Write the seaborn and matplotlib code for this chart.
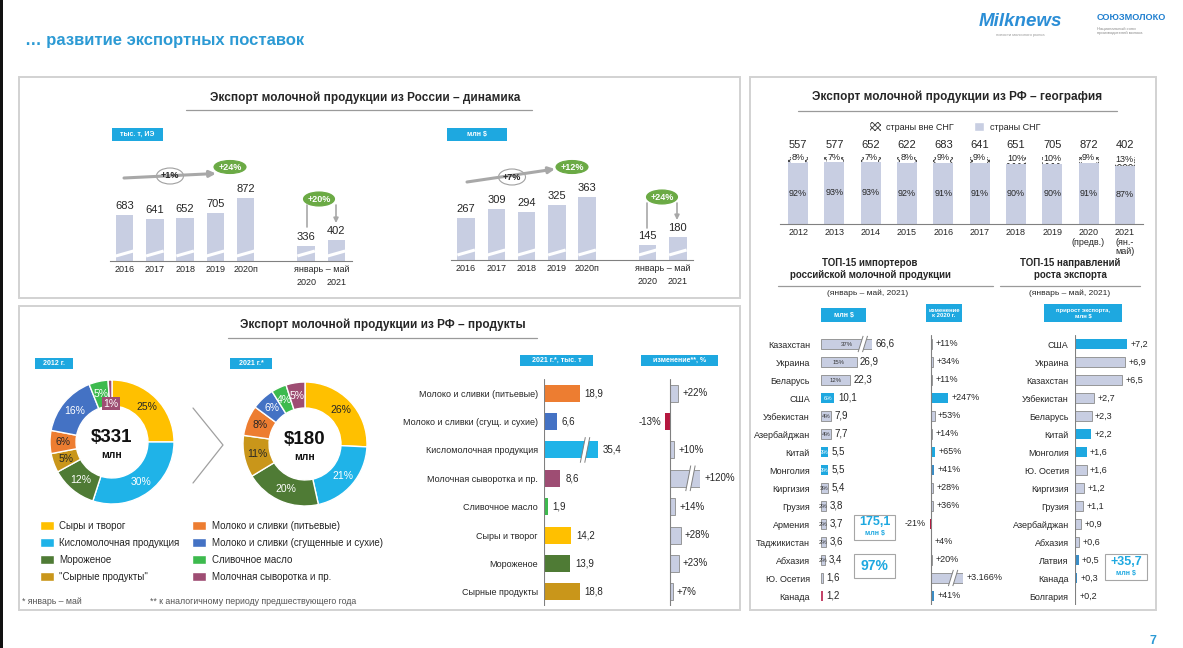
import numpy as np
import pandas as pd
import matplotlib.pyplot as plt
from matplotlib.patches import Rectangle, Ellipse, Patch
import seaborn as sns

W, H = 1183, 648

# dynamics, top left
years = ["2016", "2017", "2018", "2019", "2020п"]
jan_may = ["2020", "2021"]
volume_kt = [683, 641, 652, 705, 872]
volume_jm = [336, 402]
value_musd = [267, 309, 294, 325, 363]
value_jm = [145, 180]

# geography, top right
geo_years = ["2012", "2013", "2014", "2015", "2016", "2017", "2018", "2019",
             "2020\n(предв.)", "2021\n(ян.-\nмай)"]
geo_total = [557, 577, 652, 622, 683, 641, 651, 705, 872, 402]
geo_cis = [92, 93, 93, 92, 91, 91, 90, 90, 91, 87]
geo_non_cis = [8, 7, 7, 8, 9, 9, 10, 10, 9, 13]

# product structure (donuts)
products = ["Сыры и творог", "Кисломолочная продукция", "Мороженое", "\"Сырные продукты\"",
            "Молоко и сливки (питьевые)", "Молоко и сливки (сгущенные и сухие)",
            "Сливочное масло", "Молочная сыворотка и пр."]
share_2012 = [25, 30, 12, 5, 6, 16, 5, 1]
share_2021 = [26, 21, 20, 11, 8, 6, 4, 5]
total_2012 = 331
total_2021 = 180

# products 2021, bars
bar_products = ["Молоко и сливки (питьевые)", "Молоко и сливки (сгущ. и сухие)",
                "Кисломолочная продукция", "Молочная сыворотка и пр.", "Сливочное масло",
                "Сыры и творог", "Мороженое", "Сырные продукты"]
volume_2021 = [18.9, 6.6, 35.4, 8.6, 1.9, 14.2, 13.9, 18.8]
change_2021 = [22, -13, 10, 120, 14, 28, 23, 7]

# top-15 importers
importers = ["Казахстан", "Украина", "Беларусь", "США", "Узбекистан", "Азербайджан", "Китай",
             "Монголия", "Киргизия", "Грузия", "Армения", "Таджикистан", "Абхазия",
             "Ю. Осетия", "Канада"]
import_musd = [66.6, 26.9, 22.3, 10.1, 7.9, 7.7, 5.5, 5.5, 5.4, 3.8, 3.7, 3.6, 3.4, 1.6, 1.2]
import_share = ["37%", "15%", "12%", "6%", "4%", "4%", "3%", "3%", "3%", "2%", "2%", "2%", "2%", "", ""]
import_change = [11, 34, 11, 247, 53, 14, 65, 41, 28, 36, -21, 4, 20, 3166, 41]

# top-15 growth
growth_countries = ["США", "Украина", "Казахстан", "Узбекистан", "Беларусь", "Китай", "Монголия",
                    "Ю. Осетия", "Киргизия", "Грузия", "Азербайджан", "Абхазия", "Латвия",
                    "Канада", "Болгария"]
growth_musd = [7.2, 6.9, 6.5, 2.7, 2.3, 2.2, 1.6, 1.6, 1.2, 1.1, 0.9, 0.6, 0.5, 0.3, 0.2]

# colours
BLUE = "#1EA8E0"
BLUE2 = "#3A8DC6"
BAR = "#C8CEE2"
EDGE = "#8A8A8A"
RED = "#B5183F"
PINK = "#C4456A"
GREEN = "#6BAA45"
ARROW = "#A8A8A8"
TXT = "#262626"
product_colors = ["#FFC000", "#1FB3E8", "#4F7B35", "#C9961A", "#ED7D31", "#4472C4", "#3DBA4E", "#9E4D73"]
bar_colors = ["#ED7D31", "#4472C4", "#1FB3E8", "#9E4D73", "#3DBA4E", "#FFC000", "#4F7B35", "#C9961A"]
dark_text = {"#FFC000", "#C9961A", "#ED7D31"}
import_colors = [BAR, BAR, BAR, BLUE, BAR, BAR, BLUE, BLUE, BAR, BAR, BAR, BAR, BAR, BAR, PINK]
import_chg_colors = [BAR, BAR, BAR, BLUE, BAR, BAR, BLUE, BLUE2, BAR, BAR, RED, BAR, BAR, BAR, BLUE2]
growth_colors = [BLUE, BAR, BAR, BAR, BAR, BLUE, BLUE, BAR, BAR, BAR, BAR, BAR, BLUE2, BLUE2, BLUE2]

sns.set_style("white")
plt.rcParams["font.family"] = ["Liberation Sans", "DejaVu Sans"]
plt.rcParams["hatch.linewidth"] = 0.7

fig = plt.figure(figsize=(W / 100, H / 100), dpi=100)
bg = fig.add_axes([0, 0, 1, 1])
bg.set_xlim(0, W)
bg.set_ylim(H, 0)
bg.axis("off")


def px_axes(x0, y0, x1, y1):
    ax = fig.add_axes([x0 / W, 1 - y1 / H, (x1 - x0) / W, (y1 - y0) / H])
    ax.patch.set_alpha(0)
    return ax


def ru(v):
    return f"{v:.1f}".replace(".", ",")


def tag(x0, y0, x1, y1, text, fs=5):
    bg.add_patch(Rectangle((x0, y0), x1 - x0, y1 - y0, color=BLUE, lw=0))
    bg.text((x0 + x1) / 2, (y0 + y1) / 2, text, color="white", fontsize=fs, fontweight="bold",
            ha="center", va="center", linespacing=1.0)


def section_title(cx, y, text, x0, x1, uy):
    bg.text(cx, y, text, ha="center", va="center", fontsize=8.5, fontweight="bold", color=TXT)
    bg.plot([x0, x1], [uy, uy], color="#9A9A9A", lw=0.9)


def hbreak(ax, x, y, upp):
    # axis break drawn over a long bar
    dx = 2.5 * upp
    for shift, col, lw in [(0, "white", 3.0), (-2.2 * upp, "#808080", 0.7), (2.2 * upp, "#808080", 0.7)]:
        ax.plot([x - dx + shift, x + dx + shift], [y + 0.45, y - 0.45], color=col, lw=lw,
                solid_capstyle="butt", clip_on=False, zorder=5)


def hbars(box, names, vals, colors, xlim, height=0.55, names_pad=None, fs=6.5):
    ax = px_axes(*box)
    sns.barplot(x=vals, y=names, hue=names, palette=colors, legend=False, orient="h",
                width=height, saturation=1, errorbar=None, ax=ax)
    ax.set_xlim(*xlim)
    ax.set_ylim(len(names) - 0.5, -0.5)
    ax.set_xlabel("")
    ax.set_ylabel("")
    for p, c in zip(ax.patches, colors):
        if c == BAR:
            p.set_edgecolor(EDGE)
            p.set_linewidth(0.6)
        else:
            p.set_linewidth(0)
    ax.set_xticks([])
    if names_pad is None:
        ax.set_yticks([])
    else:
        ax.tick_params(axis="y", length=0, pad=names_pad, labelsize=fs, labelcolor=TXT)
    sns.despine(ax=ax, left=True, bottom=True)
    return ax


def end_labels(ax, vals, texts, xmax, pad=3, fs=6.5):
    for i, (v, t) in enumerate(zip(vals, texts)):
        if v >= 0:
            ax.annotate(t, (min(v, xmax), i), xytext=(pad, 0), textcoords="offset points",
                        ha="left", va="center", fontsize=fs, color=TXT, annotation_clip=False)
        else:
            ax.annotate(t, (v, i), xytext=(-pad, 0), textcoords="offset points",
                        ha="right", va="center", fontsize=fs, color=TXT, annotation_clip=False)


# page frame
bg.add_patch(Rectangle((0, 0), 3, H, color="#111111", lw=0))
for x0, y0, x1, y1 in [(19, 77, 740, 298), (19, 306, 740, 610), (750, 77, 1156, 610)]:
    bg.add_patch(Rectangle((x0, y0), x1 - x0, y1 - y0, fill=False, ec="#D2D2D2", lw=1.4))

bg.text(25, 41, "… развитие экспортных поставок", fontsize=12, fontweight="bold",
        color="#2C9AD4", va="center")
bg.text(1020, 22, "Milknews", fontsize=13.5, fontweight="bold", fontstyle="italic",
        color="#2B8ED6", ha="center", va="center")
bg.text(1020, 35, "новости молочного рынка", fontsize=3, color="#9A9A9A", ha="center", va="center")
bg.text(1131, 17, "СОЮЗМОЛОКО", fontsize=6.6, fontweight="bold", color="#1F7FCF",
        ha="center", va="center")
bg.text(1097, 31, "Национальный союз\nпроизводителей молока", fontsize=3, color="#8A8A8A",
        va="center", linespacing=1.1)
bg.text(1153, 641, "7", fontsize=9, fontweight="bold", color="#2C9AD4", ha="center", va="center")

fg = fig.add_axes([0, 0, 1, 1], zorder=10)
fg.set_xlim(0, W)
fg.set_ylim(H, 0)
fg.axis("off")
fg.patch.set_alpha(0)


def bubble(x, y, w, h, text, fc, tc, ec=None):
    fg.add_patch(Ellipse((x, y), w, h, facecolor=fc, edgecolor=ec or fc, lw=0.8))
    fg.text(x, y, text, ha="center", va="center", fontsize=6.5, fontweight="bold", color=tc)


# ---------------- dynamics ----------------
section_title(365, 98, "Экспорт молочной продукции из России – динамика", 186, 532, 110)
tag(112, 128, 163, 141, "тыс. т, ИЭ")
tag(447, 128, 507, 141, "млн $")


def dynamics(box, ylim, annual, partial):
    ax = px_axes(*box)
    order = years + [" "] + jan_may
    sns.barplot(x=years + jan_may, y=annual + partial, order=order, color=BAR, saturation=1,
                width=0.58, errorbar=None, linewidth=0, ax=ax)
    ax.set_ylim(*ylim)
    ax.set_xlim(-0.5, len(order) - 0.5)
    upp = (ylim[1] - ylim[0]) / (box[3] - box[1])
    ax.bar_label(ax.containers[0], fontsize=8, padding=3, color=TXT)
    for p in ax.containers[0]:
        ax.plot([p.get_x(), p.get_x() + p.get_width()],
                [ylim[0] + 5 * upp, ylim[0] + 10 * upp], color="white", lw=2.2,
                solid_capstyle="butt")
    ax.set_xticks(range(len(years)))
    ax.set_xticklabels(years, fontsize=6.5, color=TXT)
    ax.tick_params(axis="x", length=0, pad=3)
    ax.annotate("январь – май", (len(years) + 1.5, 0), xycoords=("data", "axes fraction"),
                xytext=(0, -3), textcoords="offset points", ha="center", va="top",
                fontsize=6.5, color=TXT)
    for k, lab in enumerate(jan_may):
        ax.annotate(lab, (len(years) + 1 + k, 0), xycoords=("data", "axes fraction"),
                    xytext=(0, -12), textcoords="offset points", ha="center", va="top",
                    fontsize=6.5, color=TXT)
    ax.set_yticks([])
    ax.set_xlabel("")
    ax.set_ylabel("")
    sns.despine(ax=ax, left=True)
    ax.spines["bottom"].set_color("#808080")
    ax.spines["bottom"].set_linewidth(0.8)


dynamics((109.5, 150, 351.5, 261), (172, 1404), volume_kt, volume_jm)
dynamics((451, 150, 693, 260), (75, 578), value_musd, value_jm)

fg.annotate("", xy=(216, 173.5), xytext=(124, 178),
            arrowprops=dict(arrowstyle="-|>", color=ARROW, lw=2.2, mutation_scale=9,
                            shrinkA=0, shrinkB=0))
bubble(170, 176, 27, 16, "+1%", "white", TXT, ec="#A0A0A0")
bubble(230, 167, 32, 13, "+24%", GREEN, "white")
fg.plot([307, 307], [205, 227], color=ARROW, lw=1.2)
fg.annotate("", xy=(336, 223), xytext=(336, 205),
            arrowprops=dict(arrowstyle="-|>", color=ARROW, lw=1.2, mutation_scale=7,
                            shrinkA=0, shrinkB=0))
bubble(319, 199, 31, 14, "+20%", GREEN, "white")

fg.annotate("", xy=(555, 169), xytext=(467, 182),
            arrowprops=dict(arrowstyle="-|>", color=ARROW, lw=2.2, mutation_scale=9,
                            shrinkA=0, shrinkB=0))
bubble(512, 177, 27, 16, "+7%", "white", TXT, ec="#A0A0A0")
bubble(572, 167, 32, 13, "+12%", GREEN, "white")
fg.plot([647, 647], [203, 228], color=ARROW, lw=1.2)
fg.annotate("", xy=(677, 220), xytext=(677, 203),
            arrowprops=dict(arrowstyle="-|>", color=ARROW, lw=1.2, mutation_scale=7,
                            shrinkA=0, shrinkB=0))
bubble(662, 197, 31, 14, "+24%", GREEN, "white")

# ---------------- geography ----------------
section_title(957, 97, "Экспорт молочной продукции из РФ – география", 798, 1117, 111)
ax_geo = px_axes(780, 157, 1143, 224)
sns.barplot(x=geo_years, y=[c + n for c, n in zip(geo_cis, geo_non_cis)], color="white",
            edgecolor="#4A4A4A", hatch="xxxxxx", linewidth=0, width=0.55, saturation=1,
            errorbar=None, ax=ax_geo)
sns.barplot(x=geo_years, y=geo_cis, color=BAR, width=0.55, saturation=1, linewidth=0,
            errorbar=None, ax=ax_geo)
ax_geo.set_ylim(0, 100)
ax_geo.set_xlim(-0.5, len(geo_years) - 0.5)
for i, (tot, c, n) in enumerate(zip(geo_total, geo_cis, geo_non_cis)):
    ax_geo.annotate(str(tot), (i, c + n), xytext=(0, 8.6), textcoords="offset points",
                    ha="center", va="center", fontsize=8, color=TXT)
    ax_geo.annotate(f"{n}%", (i, c + n / 2), xytext=(0, 1.5), textcoords="offset points",
                    ha="center", va="center", fontsize=6.5, color=TXT,
                    bbox=dict(fc="white", ec="none", pad=0.3))
    ax_geo.text(i, c / 2, f"{c}%", ha="center", va="center", fontsize=6.5, color=TXT)
ax_geo.set_xticks(range(len(geo_years)))
ax_geo.set_xticklabels(geo_years, fontsize=6.5, color=TXT, linespacing=1.05)
ax_geo.tick_params(axis="x", length=0, pad=3)
ax_geo.set_yticks([])
ax_geo.set_xlabel("")
ax_geo.set_ylabel("")
sns.despine(ax=ax_geo, left=True)
ax_geo.spines["bottom"].set_color("#808080")
ax_geo.spines["bottom"].set_linewidth(0.8)
ax_geo.legend(handles=[Patch(facecolor="white", edgecolor="#4A4A4A", hatch="xxxxxx", lw=0),
                       Patch(facecolor=BAR)],
              labels=["страны вне СНГ", "страны СНГ"], ncol=2, loc="center",
              bbox_to_anchor=(955 / W, 1 - 127 / H), bbox_transform=fig.transFigure,
              frameon=False, fontsize=6.5, handlelength=1.2, handleheight=1.2,
              columnspacing=2.2, handletextpad=0.6)

# ---------------- top-15 importers ----------------
bg.text(870, 269, "ТОП-15 импортеров\nроссийской молочной продукции", ha="center", va="center",
        fontsize=7, fontweight="bold", color=TXT, linespacing=1.35)
bg.plot([778, 993], [286, 286], color="#9A9A9A", lw=0.9)
bg.text(868, 293, "(январь – май, 2021)", ha="center", va="center", fontsize=6, color=TXT)
tag(821, 308, 866, 322, "млн $")
tag(926, 304, 962, 322, "изменение\nк 2020 г.", fs=4.3)

imp_max = 38.6
ax_imp = hbars((821, 335, 872, 605), importers, import_musd, import_colors, (0, imp_max),
               names_pad=8, fs=6.5)
end_labels(ax_imp, import_musd, [ru(v) for v in import_musd], imp_max, pad=2.5, fs=7)
for i, (v, s, c) in enumerate(zip(import_musd, import_share, import_colors)):
    ax_imp.text(min(v, imp_max) / 2, i, s, ha="center", va="center", fontsize=4.3,
                color="white" if c == BLUE else "#333333")
    if v > imp_max:
        hbreak(ax_imp, imp_max * 0.82, i, 0.76)

chg_max = 470
ax_ic = hbars((925, 335, 963, 605), importers, import_change, import_chg_colors, (-88, chg_max))
ax_ic.axvline(0, color="#808080", lw=0.8)
end_labels(ax_ic, import_change, [f"{v:+,d}%".replace(",", ".") for v in import_change],
           chg_max, pad=2.5, fs=6.5)
for i, v in enumerate(import_change):
    if v > chg_max:
        hbreak(ax_ic, chg_max * 0.69, i, 14.7)

bg.add_patch(Rectangle((854, 515), 41, 25, fill=False, ec="#A6A6A6", lw=0.8))
bg.text(874.5, 522, "175,1", ha="center", va="center", fontsize=9, fontweight="bold", color=BLUE)
bg.text(874.5, 533.5, "млн $", ha="center", va="center", fontsize=5, fontweight="bold", color=BLUE)
bg.add_patch(Rectangle((854, 554), 41, 24, fill=False, ec="#A6A6A6", lw=0.8))
bg.text(874.5, 566, "97%", ha="center", va="center", fontsize=10, fontweight="bold", color=BLUE)

# ---------------- top-15 growth ----------------
bg.text(1070, 269, "ТОП-15 направлений\nроста экспорта", ha="center", va="center",
        fontsize=7, fontweight="bold", color=TXT, linespacing=1.35)
bg.plot([1000, 1140], [286, 286], color="#9A9A9A", lw=0.9)
bg.text(1070, 293, "(январь – май, 2021)", ha="center", va="center", fontsize=6, color=TXT)
tag(1044, 304, 1122, 322, "прирост экспорта,\nмлн $", fs=4.3)

g_max = 8.05
ax_g = hbars((1075, 335, 1133, 605), growth_countries, growth_musd, growth_colors, (0, g_max),
             names_pad=4.5, fs=6.5)
ax_g.axvline(0, color="#808080", lw=0.8)
end_labels(ax_g, growth_musd, [f"+{ru(v)}" for v in growth_musd], g_max, pad=2.5, fs=6.5)

bg.add_patch(Rectangle((1105, 554), 42, 26, fill=False, ec="#A6A6A6", lw=0.8))
bg.text(1126, 562, "+35,7", ha="center", va="center", fontsize=9, fontweight="bold", color=BLUE)
bg.text(1126, 573.5, "млн $", ha="center", va="center", fontsize=5, fontweight="bold", color=BLUE)

# ---------------- products ----------------
section_title(383, 325, "Экспорт молочной продукции из РФ – продукты", 228, 537, 338)
tag(35, 358, 73, 369, "2012 г.")
tag(230, 358, 272, 369, "2021 г.*")
tag(520, 355, 593, 366, "2021 г.*, тыс. т")
tag(641, 355, 718, 366, "изменение**, %")


def donut(cx, cy, shares, total):
    ax = px_axes(cx - 62, cy - 62, cx + 62, cy + 62)
    wedges, _ = ax.pie(shares, colors=product_colors, startangle=90, counterclock=False,
                       radius=1, wedgeprops=dict(width=0.42, edgecolor="white", linewidth=1))
    ax.set_xlim(-1, 1)
    ax.set_ylim(-1, 1)
    for w, s, c in zip(wedges, shares, product_colors):
        ang = np.deg2rad((w.theta1 + w.theta2) / 2)
        r = 0.79 if s > 2 else 0.62
        box = dict(fc=c, ec="none", pad=0.8) if s <= 2 else None
        ax.text(r * np.cos(ang), r * np.sin(ang), f"{s}%", ha="center", va="center",
                fontsize=7.5, color=TXT if c in dark_text else "white", bbox=box)
    ax.text(0, 0.07, f"${total}", ha="center", va="center", fontsize=13.5, fontweight="bold",
            color="#111111")
    ax.text(0, -0.21, "млн", ha="center", va="center", fontsize=7.5, fontweight="bold",
            color="#111111")
    return wedges


wedges = donut(112, 442, share_2012, total_2012)
donut(305, 444, share_2021, total_2021)
bg.plot([193, 223, 193], [408, 445, 483], color="#A0A0A0", lw=0.9)

fig.legend(handles=wedges, labels=products, ncol=2, loc="upper left",
           bbox_to_anchor=(40 / W, 1 - 521 / H), frameon=False, fontsize=7,
           handlelength=1.4, handleheight=1.1, handletextpad=0.6, columnspacing=1.3,
           labelspacing=0.72, borderpad=0, borderaxespad=0)

bg.text(22, 602, "* январь – май", fontsize=6.3, color="#555555", va="center")
bg.text(150, 602, "** к аналогичному периоду предшествующего года", fontsize=6.3,
        color="#555555", va="center")

vol_max = 28.4
ax_pv = hbars((544, 379, 598, 606), bar_products, volume_2021, bar_colors, (0, vol_max),
              height=0.6, names_pad=4.5, fs=6.5)
ax_pv.axvline(0, color="#808080", lw=0.8)
end_labels(ax_pv, volume_2021, [ru(v) for v in volume_2021], vol_max, pad=3.5, fs=7)
for i, v in enumerate(volume_2021):
    if v > vol_max:
        hbreak(ax_pv, vol_max * 0.76, i, 0.53)

pc_max = 80
prod_chg_colors = [BAR if c > 0 else RED for c in change_2021]
ax_pc = hbars((659, 379, 700, 606), bar_products, change_2021, prod_chg_colors, (-30, pc_max),
              height=0.6)
ax_pc.axvline(0, color="#808080", lw=0.8)
end_labels(ax_pc, change_2021, [f"{v:+d}%" for v in change_2021], pc_max, pad=3, fs=7)
for i, v in enumerate(change_2021):
    if v > pc_max:
        hbreak(ax_pc, pc_max * 0.68, i, 2.7)

fig.savefig("out.png", dpi=100)
